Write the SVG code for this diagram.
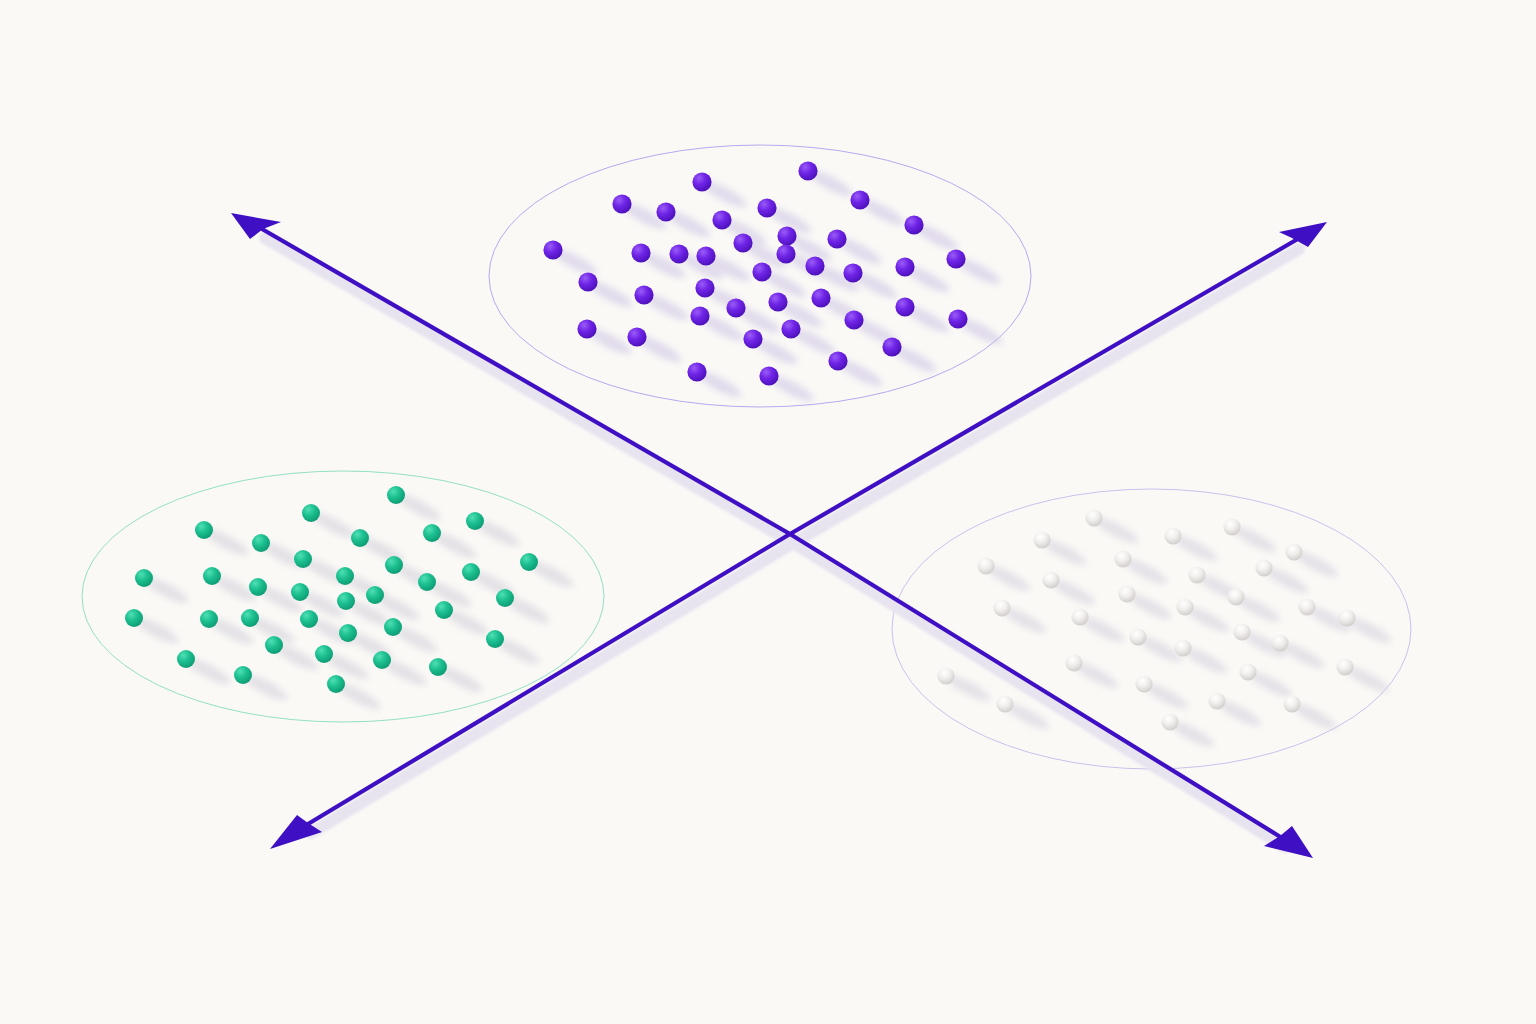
<svg xmlns="http://www.w3.org/2000/svg" width="1536" height="1024" viewBox="0 0 1536 1024">
<defs>
<style>
.ring{fill:none;stroke-width:1}
.axis{fill:none;stroke:#3f0fc4;stroke-width:4.2;stroke-linejoin:round;stroke-linecap:round}
.axis-sh{fill:none;stroke:#e7e3ef;stroke-width:12;stroke-linecap:round}
.head{fill:#3f0fc4}
</style>
<radialGradient id="gP" cx="0.35" cy="0.3" r="0.75">
<stop offset="0" stop-color="#9a5cf7"/><stop offset="0.45" stop-color="#6f24e6"/><stop offset="1" stop-color="#4a0fb8"/>
</radialGradient>
<radialGradient id="gG" cx="0.35" cy="0.3" r="0.75">
<stop offset="0" stop-color="#4fe0b4"/><stop offset="0.45" stop-color="#1dc091"/><stop offset="1" stop-color="#0c9a72"/>
</radialGradient>
<radialGradient id="gW" cx="0.4" cy="0.3" r="0.75">
<stop offset="0" stop-color="#ffffff"/><stop offset="0.45" stop-color="#f1efed"/><stop offset="1" stop-color="#cdc9c7"/>
</radialGradient>
<filter id="blur" filterUnits="userSpaceOnUse" x="0" y="0" width="1536" height="1024"><feGaussianBlur stdDeviation="3.2"/></filter>
<filter id="blur2" filterUnits="userSpaceOnUse" x="0" y="0" width="1536" height="1024"><feGaussianBlur stdDeviation="1.6"/></filter>
<ellipse id="sh" cx="22" cy="12" rx="25" ry="6.5" transform="rotate(28 22 12)"/>
<circle id="dP" r="9.6" fill="url(#gP)"/>
<circle id="dG" r="9" fill="url(#gG)"/>
<circle id="dW" r="8.6" fill="url(#gW)"/>
</defs>
<rect width="1536" height="1024" fill="#faf9f6"/>

<g id="outlines">
<ellipse class="ring" cx="760" cy="276" rx="271" ry="131" stroke="#b7a9ef"/>
<ellipse class="ring" cx="343" cy="596.5" rx="261" ry="125.5" stroke="#93e0c4"/>
<ellipse class="ring" cx="1151.5" cy="629" rx="259.5" ry="140" stroke="#c9c2ec"/>
</g>

<g id="connectors">
<g filter="url(#blur2)" transform="translate(3,9)">
<path class="axis-sh" d="M262,229 L790,534 L1282,838"/>
<path class="axis-sh" d="M308,824 L790,534 L1296,240"/>
</g>
<path class="axis" d="M262,229 L790,534 L1282,838"/>
<path class="axis" d="M308,824 L790,534 L1296,240"/>
<polygon class="head" points="231,213 281,222 263,229 250,239"/>
<polygon class="head" points="1327,222 1308,247 1292,238 1279,232"/>
<polygon class="head" points="270,849 297,815 308,823 322,832"/>
<polygon class="head" points="1313,858 1264,846 1280,836 1292,826"/>
</g>

<g id="cluster-purple">
<g filter="url(#blur)" fill="#cdc3e4" opacity="0.55">
<use href="#sh" x="702" y="182"/><use href="#sh" x="808" y="171"/><use href="#sh" x="622" y="204"/><use href="#sh" x="666" y="212"/><use href="#sh" x="767" y="208"/><use href="#sh" x="860" y="200"/><use href="#sh" x="722" y="220"/><use href="#sh" x="914" y="225"/><use href="#sh" x="553" y="250"/><use href="#sh" x="641" y="253"/><use href="#sh" x="679" y="254"/><use href="#sh" x="706" y="256"/><use href="#sh" x="743" y="243"/><use href="#sh" x="787" y="236"/><use href="#sh" x="786" y="254"/><use href="#sh" x="837" y="239"/><use href="#sh" x="815" y="266"/><use href="#sh" x="762" y="272"/><use href="#sh" x="853" y="273"/><use href="#sh" x="905" y="267"/><use href="#sh" x="956" y="259"/><use href="#sh" x="588" y="282"/><use href="#sh" x="644" y="295"/><use href="#sh" x="705" y="288"/><use href="#sh" x="736" y="308"/><use href="#sh" x="778" y="302"/><use href="#sh" x="821" y="298"/><use href="#sh" x="905" y="307"/><use href="#sh" x="958" y="319"/><use href="#sh" x="587" y="329"/><use href="#sh" x="637" y="337"/><use href="#sh" x="700" y="316"/><use href="#sh" x="791" y="329"/><use href="#sh" x="854" y="320"/><use href="#sh" x="753" y="339"/><use href="#sh" x="892" y="347"/><use href="#sh" x="838" y="361"/><use href="#sh" x="697" y="372"/><use href="#sh" x="769" y="376"/>
</g>
<use href="#dP" x="702" y="182"/><use href="#dP" x="808" y="171"/><use href="#dP" x="622" y="204"/><use href="#dP" x="666" y="212"/><use href="#dP" x="767" y="208"/><use href="#dP" x="860" y="200"/><use href="#dP" x="722" y="220"/><use href="#dP" x="914" y="225"/><use href="#dP" x="553" y="250"/><use href="#dP" x="641" y="253"/><use href="#dP" x="679" y="254"/><use href="#dP" x="706" y="256"/><use href="#dP" x="743" y="243"/><use href="#dP" x="787" y="236"/><use href="#dP" x="786" y="254"/><use href="#dP" x="837" y="239"/><use href="#dP" x="815" y="266"/><use href="#dP" x="762" y="272"/><use href="#dP" x="853" y="273"/><use href="#dP" x="905" y="267"/><use href="#dP" x="956" y="259"/><use href="#dP" x="588" y="282"/><use href="#dP" x="644" y="295"/><use href="#dP" x="705" y="288"/><use href="#dP" x="736" y="308"/><use href="#dP" x="778" y="302"/><use href="#dP" x="821" y="298"/><use href="#dP" x="905" y="307"/><use href="#dP" x="958" y="319"/><use href="#dP" x="587" y="329"/><use href="#dP" x="637" y="337"/><use href="#dP" x="700" y="316"/><use href="#dP" x="791" y="329"/><use href="#dP" x="854" y="320"/><use href="#dP" x="753" y="339"/><use href="#dP" x="892" y="347"/><use href="#dP" x="838" y="361"/><use href="#dP" x="697" y="372"/><use href="#dP" x="769" y="376"/>
</g>

<g id="cluster-green">
<g filter="url(#blur)" fill="#d2cfd9" opacity="0.55">
<use href="#sh" x="396" y="495"/><use href="#sh" x="311" y="513"/><use href="#sh" x="475" y="521"/><use href="#sh" x="204" y="530"/><use href="#sh" x="261" y="543"/><use href="#sh" x="360" y="538"/><use href="#sh" x="432" y="533"/><use href="#sh" x="303" y="559"/><use href="#sh" x="394" y="565"/><use href="#sh" x="471" y="572"/><use href="#sh" x="529" y="562"/><use href="#sh" x="144" y="578"/><use href="#sh" x="212" y="576"/><use href="#sh" x="258" y="587"/><use href="#sh" x="300" y="592"/><use href="#sh" x="345" y="576"/><use href="#sh" x="427" y="582"/><use href="#sh" x="134" y="618"/><use href="#sh" x="209" y="619"/><use href="#sh" x="250" y="618"/><use href="#sh" x="309" y="619"/><use href="#sh" x="346" y="601"/><use href="#sh" x="375" y="595"/><use href="#sh" x="444" y="610"/><use href="#sh" x="505" y="598"/><use href="#sh" x="274" y="645"/><use href="#sh" x="348" y="633"/><use href="#sh" x="393" y="627"/><use href="#sh" x="495" y="639"/><use href="#sh" x="324" y="654"/><use href="#sh" x="186" y="659"/><use href="#sh" x="382" y="660"/><use href="#sh" x="438" y="667"/><use href="#sh" x="243" y="675"/><use href="#sh" x="336" y="684"/>
</g>
<use href="#dG" x="396" y="495"/><use href="#dG" x="311" y="513"/><use href="#dG" x="475" y="521"/><use href="#dG" x="204" y="530"/><use href="#dG" x="261" y="543"/><use href="#dG" x="360" y="538"/><use href="#dG" x="432" y="533"/><use href="#dG" x="303" y="559"/><use href="#dG" x="394" y="565"/><use href="#dG" x="471" y="572"/><use href="#dG" x="529" y="562"/><use href="#dG" x="144" y="578"/><use href="#dG" x="212" y="576"/><use href="#dG" x="258" y="587"/><use href="#dG" x="300" y="592"/><use href="#dG" x="345" y="576"/><use href="#dG" x="427" y="582"/><use href="#dG" x="134" y="618"/><use href="#dG" x="209" y="619"/><use href="#dG" x="250" y="618"/><use href="#dG" x="309" y="619"/><use href="#dG" x="346" y="601"/><use href="#dG" x="375" y="595"/><use href="#dG" x="444" y="610"/><use href="#dG" x="505" y="598"/><use href="#dG" x="274" y="645"/><use href="#dG" x="348" y="633"/><use href="#dG" x="393" y="627"/><use href="#dG" x="495" y="639"/><use href="#dG" x="324" y="654"/><use href="#dG" x="186" y="659"/><use href="#dG" x="382" y="660"/><use href="#dG" x="438" y="667"/><use href="#dG" x="243" y="675"/><use href="#dG" x="336" y="684"/>
</g>

<g id="cluster-white">
<g filter="url(#blur)" fill="#d4d0dc" opacity="0.55">
<use href="#sh" x="1094" y="518"/><use href="#sh" x="1042" y="540"/><use href="#sh" x="1173" y="536"/><use href="#sh" x="1232" y="527"/><use href="#sh" x="986" y="566"/><use href="#sh" x="1123" y="559"/><use href="#sh" x="1294" y="552"/><use href="#sh" x="1051" y="580"/><use href="#sh" x="1197" y="575"/><use href="#sh" x="1264" y="568"/><use href="#sh" x="1127" y="594"/><use href="#sh" x="1236" y="597"/><use href="#sh" x="1002" y="608"/><use href="#sh" x="1080" y="617"/><use href="#sh" x="1185" y="607"/><use href="#sh" x="1307" y="607"/><use href="#sh" x="1347" y="618"/><use href="#sh" x="1138" y="637"/><use href="#sh" x="1242" y="632"/><use href="#sh" x="1183" y="648"/><use href="#sh" x="1280" y="643"/><use href="#sh" x="1074" y="663"/><use href="#sh" x="1248" y="672"/><use href="#sh" x="946" y="676"/><use href="#sh" x="1144" y="684"/><use href="#sh" x="1345" y="667"/><use href="#sh" x="1005" y="704"/><use href="#sh" x="1217" y="701"/><use href="#sh" x="1292" y="704"/><use href="#sh" x="1170" y="722"/>
</g>
<use href="#dW" x="1094" y="518"/><use href="#dW" x="1042" y="540"/><use href="#dW" x="1173" y="536"/><use href="#dW" x="1232" y="527"/><use href="#dW" x="986" y="566"/><use href="#dW" x="1123" y="559"/><use href="#dW" x="1294" y="552"/><use href="#dW" x="1051" y="580"/><use href="#dW" x="1197" y="575"/><use href="#dW" x="1264" y="568"/><use href="#dW" x="1127" y="594"/><use href="#dW" x="1236" y="597"/><use href="#dW" x="1002" y="608"/><use href="#dW" x="1080" y="617"/><use href="#dW" x="1185" y="607"/><use href="#dW" x="1307" y="607"/><use href="#dW" x="1347" y="618"/><use href="#dW" x="1138" y="637"/><use href="#dW" x="1242" y="632"/><use href="#dW" x="1183" y="648"/><use href="#dW" x="1280" y="643"/><use href="#dW" x="1074" y="663"/><use href="#dW" x="1248" y="672"/><use href="#dW" x="946" y="676"/><use href="#dW" x="1144" y="684"/><use href="#dW" x="1345" y="667"/><use href="#dW" x="1005" y="704"/><use href="#dW" x="1217" y="701"/><use href="#dW" x="1292" y="704"/><use href="#dW" x="1170" y="722"/>
</g>
</svg>
